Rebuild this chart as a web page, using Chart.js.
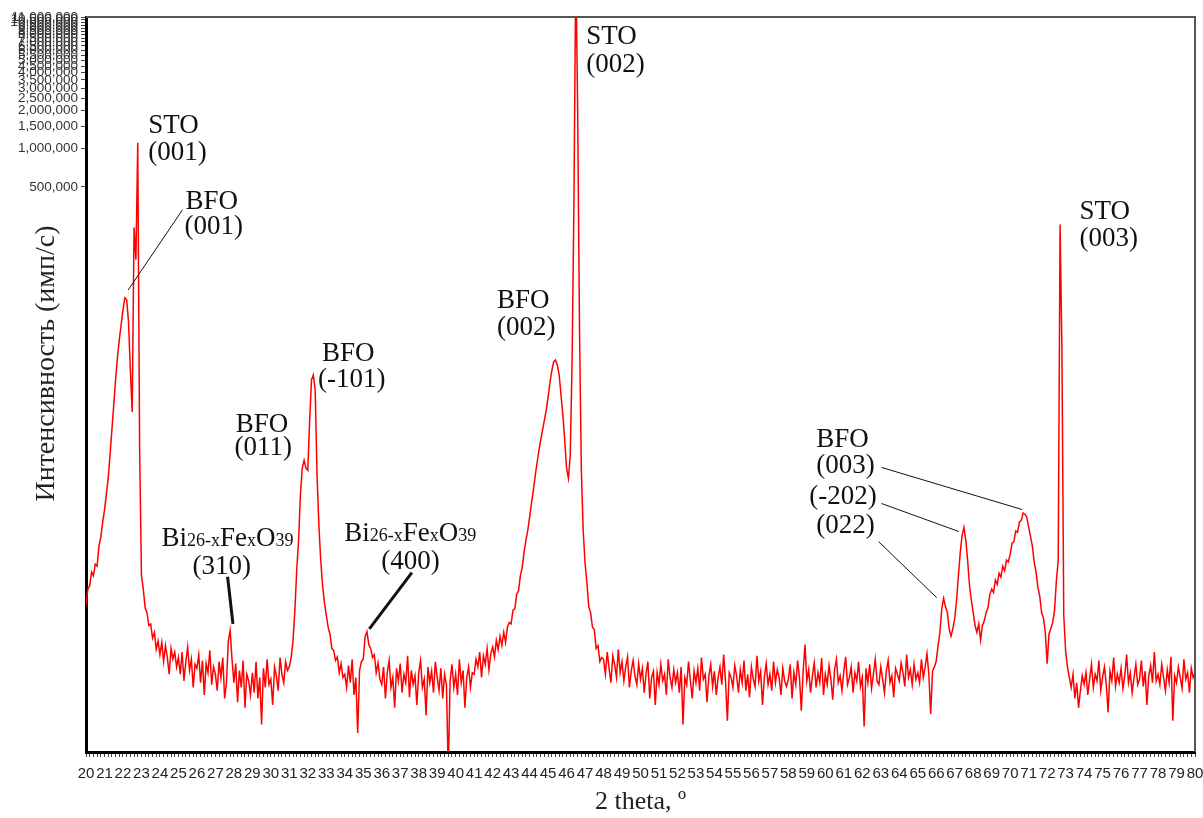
<!DOCTYPE html>
<html><head><meta charset="utf-8">
<script src="https://cdn.jsdelivr.net/npm/chart.js@4.4.1/dist/chart.umd.min.js"></script>
<style>html,body{margin:0;padding:0;background:#fff;}canvas{display:block;}</style>
</head><body>
<canvas id="c" width="1203" height="818"></canvas>
<script>
// 2theta (degrees)
const twoTheta = [
20,20.1,20.2,20.3,20.4,20.5,20.6,20.7,20.8,20.9,
21,21.1,21.2,21.3,21.4,21.5,21.6,21.7,21.8,21.9,
22,22.1,22.2,22.3,22.4,22.5,22.6,22.7,22.8,22.9,
23,23.1,23.2,23.3,23.4,23.5,23.6,23.7,23.8,23.9,
24,24.1,24.2,24.3,24.4,24.5,24.6,24.7,24.8,24.9,
25,25.1,25.2,25.3,25.4,25.5,25.6,25.7,25.8,25.9,
26,26.1,26.2,26.3,26.4,26.5,26.6,26.7,26.8,26.9,
27,27.1,27.2,27.3,27.4,27.5,27.6,27.7,27.8,27.9,
28,28.1,28.2,28.3,28.4,28.5,28.6,28.7,28.8,28.9,
29,29.1,29.2,29.3,29.4,29.5,29.6,29.7,29.8,29.9,
30,30.1,30.2,30.3,30.4,30.5,30.6,30.7,30.8,30.9,
31,31.1,31.2,31.3,31.4,31.5,31.6,31.7,31.8,31.9,
32,32.1,32.2,32.3,32.4,32.5,32.6,32.7,32.8,32.9,
33,33.1,33.2,33.3,33.4,33.5,33.6,33.7,33.8,33.9,
34,34.1,34.2,34.3,34.4,34.5,34.6,34.7,34.8,34.9,
35,35.1,35.2,35.3,35.4,35.5,35.6,35.7,35.8,35.9,
36,36.1,36.2,36.3,36.4,36.5,36.6,36.7,36.8,36.9,
37,37.1,37.2,37.3,37.4,37.5,37.6,37.7,37.8,37.9,
38,38.1,38.2,38.3,38.4,38.5,38.6,38.7,38.8,38.9,
39,39.1,39.2,39.3,39.4,39.5,39.6,39.7,39.8,39.9,
40,40.1,40.2,40.3,40.4,40.5,40.6,40.7,40.8,40.9,
41,41.1,41.2,41.3,41.4,41.5,41.6,41.7,41.8,41.9,
42,42.1,42.2,42.3,42.4,42.5,42.6,42.7,42.8,42.9,
43,43.1,43.2,43.3,43.4,43.5,43.6,43.7,43.8,43.9,
44,44.1,44.2,44.3,44.4,44.5,44.6,44.7,44.8,44.9,
45,45.1,45.2,45.3,45.4,45.5,45.6,45.7,45.8,45.9,
46,46.1,46.2,46.3,46.4,46.5,46.6,46.7,46.8,46.9,
47,47.1,47.2,47.3,47.4,47.5,47.6,47.7,47.8,47.9,
48,48.1,48.2,48.3,48.4,48.5,48.6,48.7,48.8,48.9,
49,49.1,49.2,49.3,49.4,49.5,49.6,49.7,49.8,49.9,
50,50.1,50.2,50.3,50.4,50.5,50.6,50.7,50.8,50.9,
51,51.1,51.2,51.3,51.4,51.5,51.6,51.7,51.8,51.9,
52,52.1,52.2,52.3,52.4,52.5,52.6,52.7,52.8,52.9,
53,53.1,53.2,53.3,53.4,53.5,53.6,53.7,53.8,53.9,
54,54.1,54.2,54.3,54.4,54.5,54.6,54.7,54.8,54.9,
55,55.1,55.2,55.3,55.4,55.5,55.6,55.7,55.8,55.9,
56,56.1,56.2,56.3,56.4,56.5,56.6,56.7,56.8,56.9,
57,57.1,57.2,57.3,57.4,57.5,57.6,57.7,57.8,57.9,
58,58.1,58.2,58.3,58.4,58.5,58.6,58.7,58.8,58.9,
59,59.1,59.2,59.3,59.4,59.5,59.6,59.7,59.8,59.9,
60,60.1,60.2,60.3,60.4,60.5,60.6,60.7,60.8,60.9,
61,61.1,61.2,61.3,61.4,61.5,61.6,61.7,61.8,61.9,
62,62.1,62.2,62.3,62.4,62.5,62.6,62.7,62.8,62.9,
63,63.1,63.2,63.3,63.4,63.5,63.6,63.7,63.8,63.9,
64,64.1,64.2,64.3,64.4,64.5,64.6,64.7,64.8,64.9,
65,65.1,65.2,65.3,65.4,65.5,65.6,65.7,65.8,65.9,
66,66.1,66.2,66.3,66.4,66.5,66.6,66.7,66.8,66.9,
67,67.1,67.2,67.3,67.4,67.5,67.6,67.7,67.8,67.9,
68,68.1,68.2,68.3,68.4,68.5,68.6,68.7,68.8,68.9,
69,69.1,69.2,69.3,69.4,69.5,69.6,69.7,69.8,69.9,
70,70.1,70.2,70.3,70.4,70.5,70.6,70.7,70.8,70.9,
71,71.1,71.2,71.3,71.4,71.5,71.6,71.7,71.8,71.9,
72,72.1,72.2,72.3,72.4,72.5,72.6,72.7,72.8,72.9,
73,73.1,73.2,73.3,73.4,73.5,73.6,73.7,73.8,73.9,
74,74.1,74.2,74.3,74.4,74.5,74.6,74.7,74.8,74.9,
75,75.1,75.2,75.3,75.4,75.5,75.6,75.7,75.8,75.9,
76,76.1,76.2,76.3,76.4,76.5,76.6,76.7,76.8,76.9,
77,77.1,77.2,77.3,77.4,77.5,77.6,77.7,77.8,77.9,
78,78.1,78.2,78.3,78.4,78.5,78.6,78.7,78.8,78.9,
79,79.1,79.2,79.3,79.4,79.5,79.6,79.7,79.8,79.9,
80];

// intensity (counts/s)
const intensity = [
245,330,350,450,420,520,500,720,850,1110,
1383,1840,2480,3772,5956,9400,14840,22180,30800,40480,
53260,66300,63930,42770,17810,8270,238000,132700,1116000,4450,
423,330,235,215,170,175,135,150,110,128,
100,125,88,118,95,70,112,92,105,80,
95,70,105,62,88,115,75,92,55,84,
78,100,60,90,48,85,72,108,58,80,
70,52,88,66,95,45,60,128,155,92,
60,85,42,75,55,90,38,70,62,48,
72,50,88,45,66,28,78,55,92,58,
64,40,80,68,52,95,70,60,88,75,
80,95,129,223,463,800,1840,2980,3444,2980,
2870,7020,14840,16250,12360,2620,1051,555,352,258,
205,165,145,112,108,90,96,72,85,66,
70,55,82,60,92,48,66,24,75,88,
92,138,152,120,112,95,100,72,86,64,
58,80,45,72,90,55,66,38,78,62,
85,50,70,60,98,46,75,58,68,40,
72,90,55,64,33,80,60,74,50,88,
66,52,78,45,70,58,12,62,84,55,
70,48,92,60,75,38,66,80,55,72,
70,92,80,105,66,98,84,112,76,102,
115,96,130,110,140,118,150,125,165,180,
175,225,230,300,320,420,490,643,800,960,
1217,1572,1992,2571,3260,4060,4962,5956,7150,8580,
10880,14050,17490,20610,21380,19510,16250,11300,7830,4962,
2980,2480,3772,21380,397000,30000000,2036000,36970,2870,960,
530,370,240,215,165,158,112,118,88,95,
92,70,105,78,60,98,84,66,110,72,
88,62,80,96,55,74,90,68,58,85,
64,78,50,70,88,45,66,74,40,72,
58,84,62,70,48,92,66,55,76,60,
72,50,80,28,66,58,88,62,45,74,
60,78,52,95,64,70,42,68,84,56,
74,48,66,80,58,100,62,30,72,66,
55,82,68,50,76,60,90,52,70,46,
80,64,56,98,62,74,40,66,85,58,
70,52,88,60,76,66,48,78,62,56,
64,84,45,72,58,90,66,36,74,120,
62,76,50,68,86,55,72,60,94,48,
70,58,82,64,44,76,92,60,68,52,
74,96,58,66,80,50,72,62,88,56,
66,27,78,60,84,54,70,92,62,58,
80,64,50,74,90,60,68,46,78,70,
62,86,72,56,100,66,76,58,84,64,
72,60,92,66,80,102,70,34,74,80,
89,118,150,230,279,240,215,160,140,160,
194,268,423,643,876,1015,800,555,352,268,
215,170,150,175,130,170,185,215,235,300,
330,310,390,360,440,410,500,460,560,540,
620,760,780,950,930,1120,1150,1320,1290,1217,
1020,860,720,540,450,340,290,215,195,150,
85,145,161,180,223,386,555,251600,25660,205,
107,80,66,55,70,45,60,38,52,68,
58,72,48,64,84,55,70,62,90,52,
66,80,58,35,74,62,95,56,70,60,
78,54,68,100,60,72,50,66,84,58,
64,90,56,74,40,68,82,60,105,62,
70,58,84,66,52,76,60,96,30,68,
60,80,66,54,92,64,72,50,78,66,
72];

// axis tick labels
const xTickLabels = [20,21,22,23,24,25,26,27,28,29,30,31,32,33,34,35,36,37,38,39,40,41,42,43,44,45,46,47,48,49,50,51,52,53,54,55,56,57,58,59,60,61,62,63,64,65,66,67,68,69,70,71,72,73,74,75,76,77,78,79,80];
const yTickValues = [500000,1000000,1500000,2000000,2500000,3000000,3500000,4000000,4500000,5000000,5500000,6000000,6500000,7000000,7500000,8000000,8500000,9000000,9500000,10000000,10500000,11000000];
const yAxisMin = 17, yAxisMax = 11000000;
const xAxisTitle = '2 theta, º';
const yAxisTitle = 'Интенсивность (имп/с)';

// peak annotations: text parts ([string, isSubscript]) anchored at (2theta, intensity)
const biPhase = [['Bi',0],['26-x',1],['Fe',0],['x',1],['O',0],['39',1]];
const peakLabels = [
  {parts:[['STO',0]], t:23.37, c:1339000},
  {parts:[['(001)',0]], t:23.37, c:818000},
  {parts:[['BFO',0]], t:25.38, c:334700},
  {parts:[['(001)',0]], t:25.33, c:212100},
  {parts:[['STO',0]], t:47.07, c:6668000},
  {parts:[['(002)',0]], t:47.07, c:4076000},
  {parts:[['BFO',0]], t:42.23, c:54970},
  {parts:[['(002)',0]], t:42.23, c:33590},
  {parts:[['BFO',0]], t:32.77, c:21090},
  {parts:[['(-101)',0]], t:32.55, c:13100},
  {parts:[['BFO',0]], t:28.10, c:5800},
  {parts:[['(011)',0]], t:28.04, c:3800},
  {parts:biPhase, t:24.08, c:728},
  {parts:[['(310)',0]], t:25.76, c:437},
  {parts:biPhase, t:33.97, c:797},
  {parts:[['(400)',0]], t:35.98, c:479},
  {parts:[['STO',0]], t:73.75, c:278800},
  {parts:[['(003)',0]], t:73.75, c:170300},
  {parts:[['BFO',0]], t:59.51, c:4352},
  {parts:[['(003)',0]], t:59.51, c:2707},
  {parts:[['(-202)',0]], t:59.13, c:1567},
  {parts:[['(022)',0]], t:59.51, c:923}
];
// leader lines: [t1, c1, t2, c2, lineWidth]
const leaderLines = [
  [25.22, 328600, 22.28, 76320, 1],
  [27.66, 413, 27.95, 175, 3],
  [37.63, 445, 35.33, 160, 3],
  [63.04, 3021, 70.65, 1404, 1],
  [63.04, 1567, 67.23, 940, 1],
  [62.88, 783, 66.03, 282, 1]
];

const serif = '"Liberation Serif", "Times New Roman", serif';
const sans = '"Liberation Sans", Arial, sans-serif';

const labelsPlugin = {
  id: 'peakLabels',
  afterDatasetsDraw(chart) {
    const ctx = chart.ctx, xs = chart.scales.x, ys = chart.scales.y;
    ctx.save();
    ctx.strokeStyle = '#111';
    ctx.fillStyle = '#111';
    leaderLines.forEach(l => {
      ctx.lineWidth = l[4];
      ctx.beginPath();
      ctx.moveTo(xs.getPixelForValue(l[0]), ys.getPixelForValue(l[1]));
      ctx.lineTo(xs.getPixelForValue(l[2]), ys.getPixelForValue(l[3]));
      ctx.stroke();
    });
    ctx.textAlign = 'left';
    ctx.textBaseline = 'alphabetic';
    peakLabels.forEach(a => {
      let px = xs.getPixelForValue(a.t);
      const py = ys.getPixelForValue(a.c);
      a.parts.forEach(p => {
        ctx.font = (p[1] ? '18px ' : '27px ') + serif;
        ctx.fillText(p[0], px, py);
        px += ctx.measureText(p[0]).width;
      });
    });
    ctx.restore();
  }
};

// frame (top/right) and the vertical axis title
const framePlugin = {
  id: 'frame',
  afterDraw(chart) {
    const {ctx, chartArea: a} = chart;
    ctx.save();
    ctx.strokeStyle = '#555';
    ctx.lineWidth = 2;
    ctx.beginPath();
    ctx.moveTo(a.left, a.top);
    ctx.lineTo(a.right, a.top);
    ctx.lineTo(a.right, a.bottom);
    ctx.stroke();
    ctx.translate(47, (a.top + a.bottom) / 2 - 21);
    ctx.rotate(-Math.PI / 2);
    ctx.fillStyle = '#222';
    ctx.font = '28px ' + serif;
    ctx.textAlign = 'center';
    ctx.textBaseline = 'middle';
    ctx.fillText(yAxisTitle, 0, 0);
    ctx.restore();
  }
};

const fmt = v => String(v).replace(/\B(?=(\d{3})+(?!\d))/g, ',');

new Chart(document.getElementById('c'), {
  type: 'line',
  data: {
    datasets: [{
      data: twoTheta.map((t, i) => ({x: t, y: intensity[i]})),
      borderColor: '#ff0000',
      borderWidth: 1.5,
      pointRadius: 0,
      tension: 0,
      fill: false
    }]
  },
  options: {
    responsive: false,
    animation: false,
    devicePixelRatio: 1,
    layout: {padding: {left: 0, right: 8, top: 17, bottom: 0}},
    plugins: {legend: {display: false}, tooltip: {enabled: false}},
    scales: {
      x: {
        type: 'linear',
        min: 20, max: 80,
        afterBuildTicks(scale) {
          const t = [];
          xTickLabels.forEach((v, i) => {
            t.push({value: v});
            if (i < xTickLabels.length - 1) {
              for (let k = 1; k < 5; k++) t.push({value: Math.round((v + k * 0.2) * 10) / 10});
            }
          });
          scale.ticks = t;
        },
        afterFit(scale) { scale.height = 66; scale.paddingLeft = 0; scale.paddingRight = 0; },
        ticks: {
          autoSkip: false, maxRotation: 0, minRotation: 0, padding: 8,
          color: '#222',
          font: {family: sans, size: 15},
          callback: v => (xTickLabels.includes(v) ? String(v) : '')
        },
        grid: {display: true, drawOnChartArea: false, drawTicks: true, tickLength: 5, tickColor: '#444'},
        border: {display: true, color: '#000', width: 3},
        title: {display: true, text: xAxisTitle, color: '#222', font: {family: serif, size: 26}, padding: {top: 0, bottom: 0}}
      },
      y: {
        type: 'logarithmic',
        min: yAxisMin, max: yAxisMax,
        afterBuildTicks(scale) { scale.ticks = yTickValues.map(v => ({value: v})); },
        afterFit(scale) { scale.width = 86; scale.paddingTop = 0; scale.paddingBottom = 0; },
        ticks: {
          autoSkip: false, padding: 3,
          color: '#333',
          font: {family: sans, size: 13.5},
          callback: v => fmt(v)
        },
        grid: {display: true, drawOnChartArea: false, drawTicks: true, tickLength: 5, tickColor: '#444'},
        border: {display: true, color: '#000', width: 3},
        title: {display: false, text: yAxisTitle}
      }
    }
  },
  plugins: [labelsPlugin, framePlugin]
});
</script>
</body></html>
